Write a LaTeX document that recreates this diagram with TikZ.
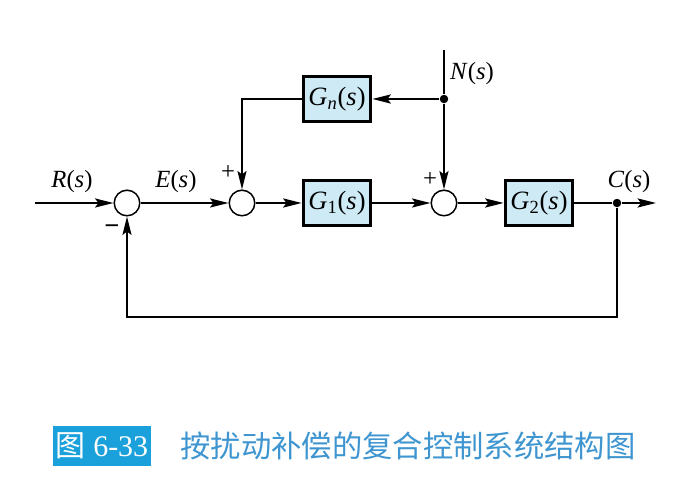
\documentclass[tikz,border=0pt]{standalone}
\usepackage{fontspec}
\setmainfont{Liberation Serif}
\newfontfamily\cjk{Noto Sans CJK SC}
\usetikzlibrary{arrows.meta}
\definecolor{boxfill}{HTML}{CDEAF5}
\definecolor{capbox}{HTML}{1AA0DA}
\definecolor{captext}{HTML}{3E95D0}
\tikzset{
  blk/.style={draw, line width=1.7pt, fill=boxfill, minimum width=38.5pt, minimum height=26pt, inner sep=0pt, font=\fontsize{15}{17}\selectfont},
  sumj/.style={draw, circle, line width=0.85pt, minimum size=14.5pt, inner sep=0pt, fill=white},
  sig/.style={line width=0.85pt, -{Stealth[length=10.5pt,width=5.2pt,inset=2pt]}},
  wire/.style={line width=0.85pt},
  lbl/.style={font=\fontsize{14}{16}\selectfont, inner sep=0pt},
  sgn/.style={font=\fontsize{14}{16}\selectfont, inner sep=0pt},
  dotn/.style={circle, fill=black, minimum size=4.8pt, inner sep=0pt}
}
\begin{document}
\begin{tikzpicture}[x=0.567pt,y=-0.567pt]
\useasboundingbox (0,0) rectangle (681,480);
% blocks
\node[sumj] (s1) at (127,203) {};
\node[sumj] (s2) at (242,203) {};
\node[sumj] (s3) at (444,203) {};
\node[blk] (gn) at (337,99) {\textit{G}\textsubscript{\textit{n}}(\textit{s})};
\node[blk] (g1) at (337,203) {\textit{G}\textsubscript{1}(\textit{s})};
\node[blk] (g2) at (539,203) {\textit{G}\textsubscript{2}(\textit{s})};
\node[dotn] (dn) at (444,99) {};
\node[dotn] (dc) at (617,203) {};
\coordinate (rin) at (35,203);
\coordinate (ntop) at (444,50);
\coordinate (cout) at (656,203);
\coordinate (fbr) at (617,317);
\coordinate (fbl) at (127,317);
\coordinate (gnl) at (242,99);
% connectors
\draw[sig] (rin) -- (s1);
\draw[sig] (s1) -- (s2);
\draw[sig] (s2) -- (g1);
\draw[sig] (g1) -- (s3);
\draw[sig] (s3) -- (g2);
\draw[wire] (g2) -- (dc);
\draw[sig] (dc) -- (cout);
\draw[wire] (ntop) -- (dn);
\draw[sig] (dn) -- (s3);
\draw[sig] (dn) -- (gn);
\draw[sig] (gn.west) -- (gnl) -- (s2);
\draw[sig] (dc) -- (fbr) -- (fbl) -- (s1);
% labels
\node[lbl] (lr) at (72,182) {\textit{R}(\textit{s})};
\node[lbl] (le) at (176,182) {\textit{E}(\textit{s})};
\node[lbl] (lc) at (629,182) {\textit{C}(\textit{s})};
\node[lbl] (ln) at (472,74) {\textit{N}(\textit{s})};
\node[sgn] (p2) at (228,173) {+};
\node[sgn] (p3) at (430,180) {+};
\node[font=\fontsize{15}{16}\selectfont\bfseries, inner sep=0pt] (m1) at (112,230) {−};
% caption
\node[fill=capbox, text=white, minimum width=55.5pt, minimum height=23pt, inner sep=0pt, font=\fontsize{17}{19}\selectfont] (cap) at (102,446) {{\cjk 图} 6-33};
\node[text=captext, inner sep=0pt, anchor=west, font=\fontsize{17.2}{19}\selectfont\cjk] (ctxt) at (180,446) {按扰动补偿的复合控制系统结构图};
\end{tikzpicture}
\end{document}
